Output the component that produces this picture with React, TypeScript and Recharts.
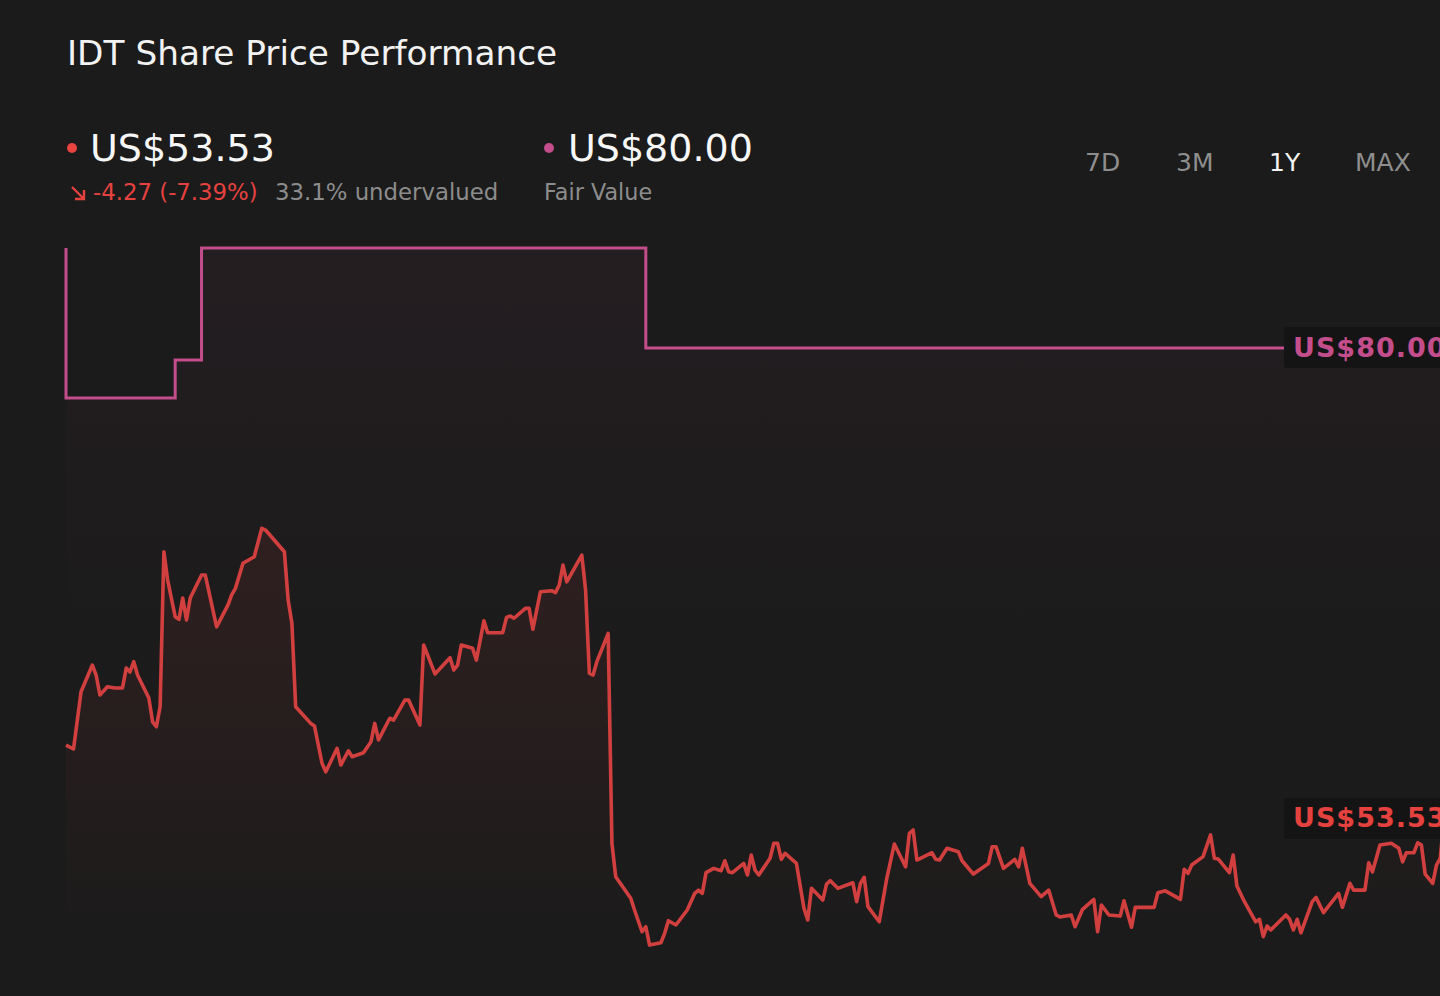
import React from "react";
import { ComposedChart, Area, XAxis, YAxis, ReferenceLine } from "recharts";

const priceDays = [
  0, 2, 4, 7, 8, 9, 11, 13, 15, 16, 17, 18, 19, 22, 23, 24, 25, 26, 27, 29, 30, 31, 32, 33, 36, 37, 40, 43, 44, 45, 47, 50, 52, 53, 58, 59, 60, 61, 65, 66, 68, 69, 72, 73, 75, 76, 79, 81, 82, 83, 86, 87, 90, 91, 94, 95, 98, 102, 103, 104, 105, 108, 109, 111, 112, 116, 117, 118, 119, 122, 123, 124, 126, 129, 130, 131, 132, 133, 137, 138, 139, 140, 141, 144, 145, 146, 150, 151, 153, 154, 155, 158, 159, 160, 162, 165, 167, 168, 169, 170, 172, 174, 175, 176, 177, 180, 181, 182, 183, 184, 187, 188, 189, 190, 191, 194, 196, 197, 198, 201, 202, 203, 205, 209, 210, 211, 212, 213, 216, 218, 220, 223, 224, 225, 226, 230, 231, 232, 234, 237, 238, 241, 245, 246, 247, 249, 252, 253, 254, 256, 259, 261, 263, 264, 267, 268, 270, 273, 274, 275, 277, 280, 281, 283, 284, 289, 290, 292, 296, 297, 298, 299, 302, 304, 305, 306, 309, 310, 311, 313, 316, 317, 318, 319, 320, 324, 325, 326, 327, 328, 331, 332, 334, 338, 339, 341, 342, 345, 346, 347, 349, 352, 354, 355, 356, 358, 359, 360, 361, 363, 364, 365, 366,
];
const priceValues = [
  57.68, 57.46, 60.68, 62.18, 61.62, 60.5, 60.96, 60.89, 60.89, 62.01, 61.79, 62.37, 61.62, 60.33, 58.99, 58.71, 59.84, 68.55, 66.96, 64.9, 64.75, 65.95, 64.71, 65.95, 67.24, 67.24, 64.33, 65.55, 66.12, 66.49, 67.9, 68.27, 69.87, 69.77, 68.55, 65.83, 64.53, 59.84, 58.9, 58.75, 56.66, 56.18, 57.5, 56.56, 57.36, 57.03, 57.25, 57.87, 58.9, 57.97, 59.19, 59.09, 60.21, 60.21, 58.81, 63.31, 61.68, 62.59, 61.9, 62.18, 63.31, 63.12, 62.46, 64.67, 64.0, 64.0, 64.86, 64.94, 64.81, 65.37, 65.37, 64.19, 66.3, 66.36, 66.25, 66.68, 67.8, 66.86, 68.36, 66.4, 61.72, 61.62, 62.37, 63.96, 52.16, 50.28, 49.07, 48.41, 47.19, 47.47, 46.44, 46.57, 47.1, 47.81, 47.57, 48.41, 49.35, 49.53, 49.35, 50.51, 50.75, 50.62, 51.18, 50.56, 50.51, 51.03, 50.38, 51.5, 50.66, 50.38, 51.32, 52.16, 52.16, 51.26, 51.6, 51.03, 48.51, 47.85, 49.63, 48.97, 49.87, 50.06, 49.63, 49.94, 48.88, 49.91, 50.25, 48.6, 47.75, 50.19, 52.12, 50.84, 52.72, 52.91, 51.22, 51.63, 51.26, 51.22, 51.88, 51.69, 51.18, 50.43, 51.03, 51.97, 51.97, 50.75, 51.26, 50.84, 51.88, 49.91, 49.16, 49.53, 48.13, 48.02, 48.13, 47.47, 48.45, 49.01, 47.19, 48.69, 48.13, 48.07, 48.93, 47.44, 48.56, 48.56, 49.38, 49.49, 49.01, 50.7, 50.47, 50.94, 51.41, 52.63, 51.32, 51.28, 50.51, 51.5, 49.76, 48.88, 47.75, 47.89, 46.91, 47.51, 47.29, 48.13, 47.89, 47.29, 47.89, 47.13, 48.88, 49.12, 48.26, 49.35, 48.56, 49.91, 49.53, 49.53, 51.07, 50.56, 52.06, 52.16, 51.88, 51.12, 51.63, 51.63, 52.19, 52.06, 50.43, 49.91, 50.94, 51.32, 53.53,
];

const fairDays = [0, 0, 29, 36, 154, 366];
const fairValues = [85.62, 77.19, 79.33, 85.62, 80.0, 80.0];

const currentPrice = 53.53;
const fairValue = 80.0;
const priceLabel = "US$53.53";
const fairLabel = "US$80.00";
const changeText = "-4.27 (-7.39%)";
const undervaluedText = "33.1% undervalued";
const fairValueCaption = "Fair Value";
const titleText = "IDT Share Price Performance";
const tabs = ["7D", "3M", "1Y", "MAX"];
const activeTab = "1Y";

const priceData = priceDays.map((d, i) => ({ day: d, price: priceValues[i] }));
const fairData = fairDays.map((d, i) => ({ day: d, fair: fairValues[i] }));

const BG = "#1b1b1b";
const RED = "#d1403f";
const RED_TEXT = "#e5423f";
const PINK = "#c44d8c";
const FONT = "DejaVu Sans, Verdana, sans-serif";

const Tag = (props: any) => {
  const { viewBox, text, color } = props;
  if (!viewBox) return null;
  const right = viewBox.x + viewBox.width;
  const cy = viewBox.y;
  return (
    <g>
      <rect x={right - 160} y={cy - 21} width={220} height={41} fill="#151414" rx={3} />
      <text
        x={right - 151}
        y={cy + 8.5}
        fill={color}
        fontSize={27}
        fontWeight="bold"
        letterSpacing={1}
        fontFamily={FONT}
      >
        {text}
      </text>
    </g>
  );
};

export default function App() {
  const tabX = [1085, 1176, 1269, 1355];
  return (
    <div
      style={{
        position: "absolute",
        top: 0,
        left: 0,
        width: 1440,
        height: 996,
        background: BG,
        overflow: "hidden",
      }}
    >
      <div style={{ position: "absolute", top: 0, left: 0 }}>
        <ComposedChart
          width={1444}
          height={996}
          margin={{ top: 241.3, right: 0, bottom: 43.1, left: 66 }}
        >
          <defs>
            <linearGradient id="fvGrad" x1="0" y1="0" x2="0" y2="1">
              <stop offset="0%" stopColor={PINK} stopOpacity={0.09} />
              <stop offset="45%" stopColor={PINK} stopOpacity={0.02} />
              <stop offset="100%" stopColor={PINK} stopOpacity={0} />
            </linearGradient>
            <linearGradient id="pGrad" x1="0" y1="0" x2="0" y2="1">
              <stop offset="0%" stopColor={RED} stopOpacity={0.17} />
              <stop offset="60%" stopColor={RED} stopOpacity={0.07} />
              <stop offset="100%" stopColor={RED} stopOpacity={0} />
            </linearGradient>
          </defs>
          <XAxis type="number" dataKey="day" domain={[0, 366]} hide allowDuplicatedCategory={false} />
          <YAxis type="number" domain={[46, 86]} hide allowDataOverflow />
          <Area
            data={fairData}
            dataKey="fair"
            type="stepAfter"
            stroke={PINK}
            strokeWidth={3}
            fill="url(#fvGrad)"
            dot={false}
            activeDot={false}
            isAnimationActive={false}
          />
          <Area
            data={priceData}
            dataKey="price"
            type="linear"
            stroke={RED}
            strokeWidth={3.6}
            strokeLinejoin="round"
            fill="url(#pGrad)"
            dot={false}
            activeDot={false}
            isAnimationActive={false}
          />
          <ReferenceLine
            y={fairValue}
            stroke="none"
            label={(p: any) => <Tag {...p} text={fairLabel} color={PINK} />}
          />
          <ReferenceLine
            y={currentPrice}
            stroke="none"
            label={(p: any) => <Tag {...p} text={priceLabel} color={RED_TEXT} />}
          />
        </ComposedChart>
      </div>
      <svg
        width={1440}
        height={240}
        style={{ position: "absolute", top: 0, left: 0, pointerEvents: "none" }}
        fontFamily={FONT}
      >
        <text x={67} y={65} fontSize={34.3} fill="#f2f2f2">
          {titleText}
        </text>
        <circle cx={72} cy={148} r={5} fill="#e8433e" />
        <text x={90} y={161} fontSize={38} fill="#f7f7f7">
          {priceLabel}
        </text>
        <path d="M72 187 L84 199 M84 190 L84 199 L75 199" stroke={RED_TEXT} strokeWidth={2.4} fill="none" />
        <text x={93} y={200} fontSize={22.8} fill={RED_TEXT}>
          {changeText}
        </text>
        <text x={275} y={200} fontSize={22.8} fill="#8c8c8c">
          {undervaluedText}
        </text>
        <circle cx={549} cy={148} r={5} fill={PINK} />
        <text x={568} y={161} fontSize={38} fill="#f7f7f7">
          {fairLabel}
        </text>
        <text x={544} y={200} fontSize={22.3} fill="#8c8c8c">
          {fairValueCaption}
        </text>
        {tabs.map((t, i) => (
          <text key={t} x={tabX[i]} y={171} fontSize={25} fill={t === activeTab ? "#f4f4f4" : "#8e8e8e"}>
            {t}
          </text>
        ))}
      </svg>
    </div>
  );
}
